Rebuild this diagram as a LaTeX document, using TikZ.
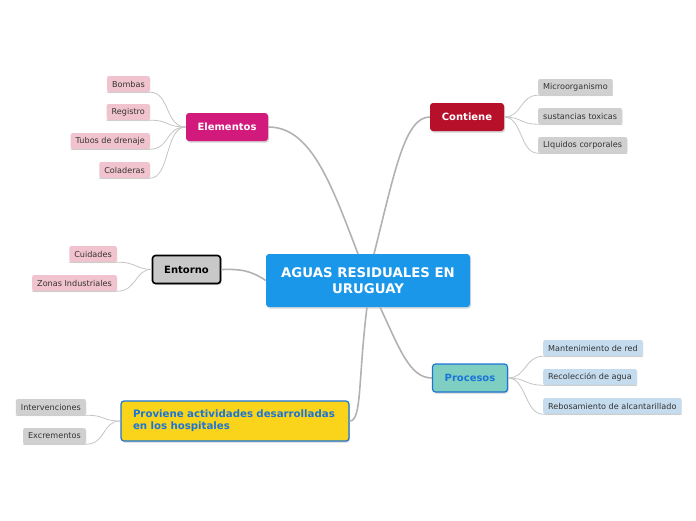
\documentclass[tikz,border=0pt]{standalone}
\usepackage{fontspec}
\setmainfont{DejaVu Sans}
\usetikzlibrary{shadows}
\definecolor{centralc}{HTML}{1A97E8}
\definecolor{elemc}{HTML}{D11A7C}
\definecolor{contc}{HTML}{B7102B}
\definecolor{entc}{HTML}{C8C8C8}
\definecolor{procc}{HTML}{7ECFC2}
\definecolor{provc}{HTML}{F9D41B}
\definecolor{bluetxt}{HTML}{1C74D6}
\definecolor{pinkleaf}{HTML}{F1C3CE}
\definecolor{grayleaf}{HTML}{D0D0D0}
\definecolor{blueleaf}{HTML}{C5DCEE}
\definecolor{linec}{HTML}{B2B2B2}
\definecolor{leafline}{HTML}{C4C4C4}
\tikzset{
  branch/.style={rounded corners=3pt, inner xsep=6pt, minimum height=28pt, font=\fontsize{10}{12}\selectfont\bfseries, drop shadow={opacity=0.35, shadow xshift=1pt, shadow yshift=-1.5pt}},
  leaf/.style={rounded corners=2pt, inner xsep=5pt, inner ysep=0pt, minimum height=16pt, font=\fontsize{8.1}{9}\selectfont, text=black!80, drop shadow={opacity=0.2, shadow xshift=0.5pt, shadow yshift=-1pt}},
  pinkl/.style={leaf, fill=pinkleaf},
  grayl/.style={leaf, fill=grayleaf},
  bluel/.style={leaf, fill=blueleaf},
  mainlink/.style={draw=linec, line width=1.6pt},
  leaflink/.style={draw=leafline, line width=0.8pt},
}
\begin{document}
\begin{tikzpicture}[x=1pt,y=-1pt]
\useasboundingbox (0,0) rectangle (696,520);
% central
\node[fill=centralc, rounded corners=3pt, minimum width=204pt, minimum height=53pt, text=white, align=center, font=\fontsize{13.3}{16}\selectfont\bfseries, drop shadow={opacity=0.3, shadow xshift=1pt, shadow yshift=-1.5pt}] (c) at (368,280.5) {AGUAS RESIDUALES EN\\URUGUAY};
% branches
\node[branch, fill=elemc, text=white, minimum width=82pt] (el) at (227,127) {Elementos};
\node[branch, fill=contc, text=white, minimum width=74pt] (co) at (467,117) {Contiene};
\node[branch, fill=entc, draw=black, line width=1.6pt, text=black, minimum width=68pt] (en) at (186.5,269.5) {Entorno};
\node[branch, fill=procc, draw=bluetxt, line width=1.2pt, text=bluetxt, minimum width=75pt] (pr) at (470,378) {Procesos};
\node[branch, fill=provc, draw=bluetxt, line width=1.2pt, text=bluetxt, inner xsep=12pt, minimum width=228pt, minimum height=40pt, align=left, text width=204pt, font=\fontsize{10.2}{12}\selectfont\bfseries] (pv) at (235,421) {Proviene actividades desarrolladas\\en los hospitales};
% leaves
\node[pinkl, anchor=east] (l1) at (150,84) {Bombas};
\node[pinkl, anchor=east] (l2) at (150,112) {Registro};
\node[pinkl, anchor=east] (l3) at (150,141) {Tubos de drenaje};
\node[pinkl, anchor=east] (l4) at (150,170) {Coladeras};
\node[pinkl, anchor=east] (l5) at (117,254) {Cuidades};
\node[pinkl, anchor=east] (l6) at (117,283) {Zonas Industriales};
\node[grayl, anchor=west] (r1) at (538,87) {Microorganismo};
\node[grayl, anchor=west] (r2) at (538,116) {sustancias toxicas};
\node[grayl, anchor=west] (r3) at (538,145) {LIquidos corporales};
\node[bluel, anchor=west] (p1) at (543,348) {Mantenimiento de red};
\node[bluel, anchor=west] (p2) at (543,377) {Recolección de agua};
\node[bluel, anchor=west] (p3) at (543,406) {Rebosamiento de alcantarillado};
\node[grayl, anchor=east] (h1) at (86,407) {Intervenciones};
\node[grayl, anchor=east] (h2) at (86,436) {Excrementos};
% main connectors
\coordinate (ct1) at (358,254);
\coordinate (ct2) at (374,254);
\coordinate (cb1) at (367,307);
\coordinate (cb2) at (380,307);
\draw[mainlink] (ct1) .. controls (330,180) and (310,127) .. (el.east);
\draw[mainlink] (ct2) .. controls (395,170) and (405,117) .. (co.west);
\draw[mainlink] (en.east) .. controls (240,269) and (250,270) .. (c.west);
\draw[mainlink] (cb1) .. controls (358,380) and (362,421) .. (pv.east);
\draw[mainlink] (cb2) .. controls (400,350) and (410,378) .. (pr.west);
% leaf connectors
\foreach \l in {l1,l2,l3,l4}{
  \draw[leaflink] (\l.south west) -- (\l.south east) .. controls +(20,0) and (165,127) .. (el.west);
}
\foreach \l in {l5,l6}{
  \draw[leaflink] (\l.south west) -- (\l.south east) .. controls +(20,0) and (135,269) .. (en.west);
}
\foreach \l in {h1,h2}{
  \draw[leaflink] (\l.south west) -- (\l.south east) .. controls +(20,0) and (102,421) .. (pv.west);
}
\foreach \l in {r1,r2,r3}{
  \draw[leaflink] (co.east) .. controls +(18,0) and ([xshift=-18pt]\l.south west) .. (\l.south west) -- (\l.south east);
}
\foreach \l in {p1,p2,p3}{
  \draw[leaflink] (pr.east) .. controls +(18,0) and ([xshift=-18pt]\l.south west) .. (\l.south west) -- (\l.south east);
}
\end{tikzpicture}
\end{document}
